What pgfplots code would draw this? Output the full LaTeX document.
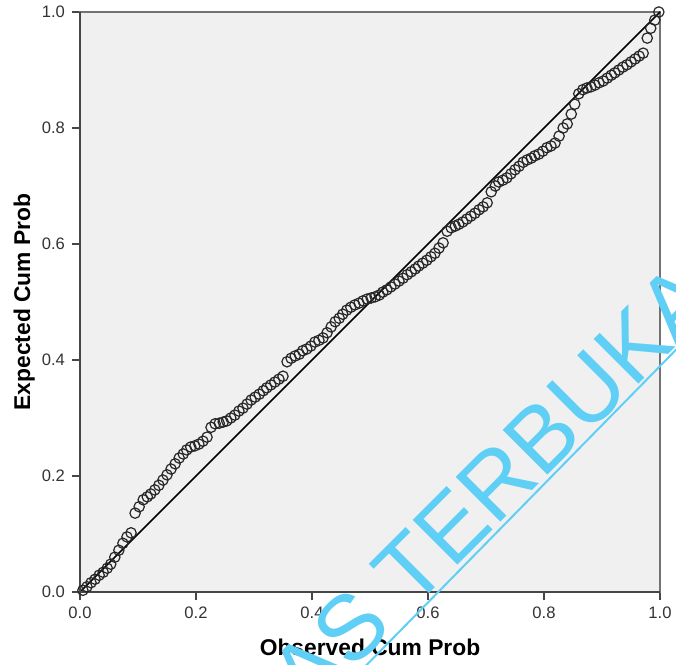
\documentclass[border=0pt]{standalone}
\usepackage{fontspec}
\setmainfont{Liberation Sans}
\usepackage{pgfplots}
\pgfplotsset{compat=1.18}
\usepackage{pgfplotstable}
\definecolor{bg}{RGB}{240,240,240}
\definecolor{wm}{RGB}{95,207,245}
\definecolor{axc}{RGB}{70,70,70}
\pgfplotstableread{
x y
0.005 0.003
0.012 0.009
0.019 0.016
0.026 0.022
0.033 0.029
0.040 0.034
0.047 0.041
0.053 0.048
0.060 0.060
0.067 0.072
0.074 0.084
0.081 0.095
0.088 0.102
0.095 0.136
0.102 0.147
0.109 0.159
0.116 0.164
0.122 0.169
0.129 0.176
0.136 0.184
0.143 0.193
0.150 0.202
0.157 0.212
0.164 0.221
0.171 0.231
0.178 0.238
0.184 0.245
0.191 0.250
0.198 0.252
0.205 0.255
0.212 0.260
0.219 0.267
0.226 0.284
0.233 0.290
0.240 0.291
0.247 0.293
0.253 0.295
0.260 0.300
0.267 0.305
0.274 0.312
0.281 0.317
0.288 0.324
0.295 0.331
0.302 0.336
0.309 0.341
0.316 0.347
0.322 0.352
0.329 0.357
0.336 0.362
0.343 0.367
0.350 0.372
0.357 0.397
0.364 0.403
0.371 0.407
0.378 0.410
0.384 0.416
0.391 0.419
0.398 0.424
0.405 0.431
0.412 0.434
0.419 0.438
0.426 0.447
0.433 0.457
0.440 0.466
0.447 0.472
0.453 0.479
0.460 0.486
0.467 0.491
0.474 0.495
0.481 0.498
0.488 0.502
0.495 0.505
0.502 0.507
0.509 0.509
0.516 0.512
0.522 0.517
0.529 0.521
0.536 0.526
0.543 0.531
0.550 0.536
0.557 0.541
0.564 0.547
0.571 0.552
0.578 0.557
0.584 0.562
0.591 0.567
0.598 0.572
0.605 0.578
0.612 0.584
0.619 0.593
0.626 0.602
0.633 0.622
0.640 0.628
0.647 0.631
0.653 0.634
0.660 0.638
0.667 0.643
0.674 0.648
0.681 0.653
0.688 0.659
0.695 0.664
0.702 0.671
0.709 0.690
0.716 0.700
0.722 0.707
0.729 0.710
0.736 0.714
0.743 0.721
0.750 0.728
0.757 0.734
0.764 0.741
0.771 0.745
0.778 0.748
0.784 0.752
0.791 0.755
0.798 0.760
0.805 0.766
0.812 0.769
0.819 0.774
0.826 0.786
0.833 0.800
0.840 0.807
0.847 0.824
0.853 0.841
0.860 0.859
0.867 0.866
0.874 0.869
0.881 0.871
0.888 0.874
0.895 0.878
0.902 0.881
0.909 0.886
0.916 0.891
0.922 0.895
0.929 0.900
0.936 0.905
0.943 0.909
0.950 0.914
0.957 0.919
0.964 0.924
0.971 0.929
0.978 0.955
0.984 0.972
0.991 0.986
0.998 1.000
}\pp
\begin{document}
\begin{tikzpicture}
\path[use as bounding box] (-40pt,-36.5pt) rectangle (298pt,296pt);
\begin{axis}[
  at={(0,0)}, anchor=south west,
  scale only axis, width=290pt, height=290pt,
  xmin=0, xmax=1, ymin=0, ymax=1,
  clip=false,
  axis background/.style={fill=bg},
  axis line style={draw=black!55, line width=0.8pt},
  xtick={0,0.2,0.4,0.6,0.8,1}, ytick={0,0.2,0.4,0.6,0.8,1},
  xticklabels={0.0,0.2,0.4,0.6,0.8,1.0},
  yticklabels={0.0,0.2,0.4,0.6,0.8,1.0},
  xtick pos=bottom, ytick pos=left,
  tick align=outside, major tick length=4pt,
  tick style={draw=axc, line width=0.8pt},
  ticklabel style={font=\fontsize{8.3}{10}\selectfont, text=black!80},
  /pgf/number format/assume math mode=true,
  xlabel={Observed Cum Prob},
  ylabel={Expected Cum Prob},
  x label style={at={(axis description cs:0.5,-0.1103)}, anchor=base, font=\bfseries\fontsize{11.4}{13}\selectfont},
  y label style={at={(axis description cs:-0.0862,0.5)}, anchor=base, font=\bfseries\fontsize{11.4}{13}\selectfont},
]
\addplot[black, line width=0.75pt] coordinates {(0,0) (1,1)};
\addplot[only marks, mark=o, mark size=2.6pt, mark options={draw=black!85, line width=0.6pt}] table[x=x, y=y] {\pp};
\draw[axc, line width=1.4pt] (rel axis cs:0,1) -- (rel axis cs:0,0) -- (rel axis cs:1,0);
\end{axis}
\node[wm, rotate=45, anchor=base east, font=\fontsize{46}{54}\selectfont, inner sep=0pt] at (320.2pt,144.7pt) {UNIVERSITAS TERBUKA};
\draw[wm, line width=1pt] (133pt,-47pt) -- (308pt,131.3pt);
\end{tikzpicture}
\end{document}
